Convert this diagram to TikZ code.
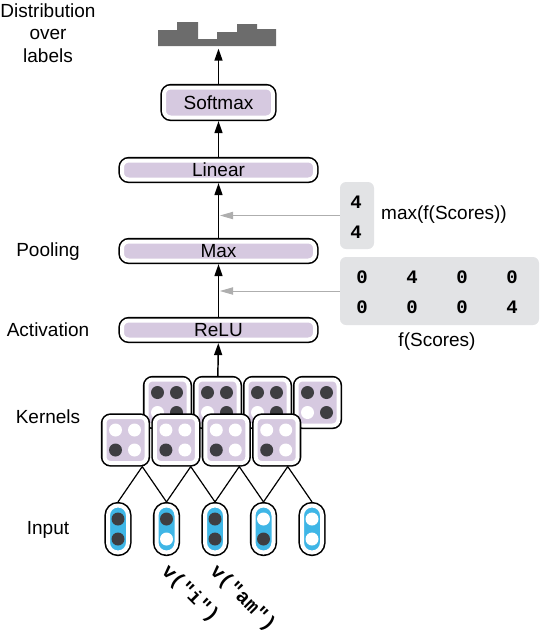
\documentclass[tikz,border=0pt]{standalone}
\usepackage{fontspec}
\setmainfont{Liberation Sans}
\newfontfamily\codefont{Liberation Mono}
\usepackage{tikz}
\usetikzlibrary{arrows.meta,calc}
\definecolor{lav}{HTML}{D6C9E0}
\definecolor{inblue}{HTML}{3FB6E6}
\definecolor{dotd}{HTML}{3E3E42}
\definecolor{scorebg}{HTML}{E2E3E5}
\definecolor{histg}{HTML}{6C6C6C}
\definecolor{pointg}{HTML}{AEAEAE}

\begin{document}
\begin{tikzpicture}[x=0.75pt, y=-0.75pt, font=\fontsize{14.25}{17}\selectfont,
  rim/.style={draw=white, line width=3pt, preaction={draw=black, line width=5.4pt}, outer sep=2.7pt, inner sep=0pt},
  layer/.style={rim, fill=lav, rounded corners=5pt, minimum width=144.75pt, minimum height=14.25pt},
  kern/.style={rim, fill=lav, rounded corners=4.5pt, minimum width=31.5pt, minimum height=34.5pt},
  pill/.style={rim, fill=inblue, rounded corners=7.4pt, minimum width=15pt, minimum height=35.25pt},
  score/.style={fill=scorebg, rounded corners=4.5pt, inner sep=0pt},
  num/.style={font=\fontsize{14.25}{17}\selectfont\codefont\bfseries},
  code/.style={font=\fontsize{15}{18}\selectfont\codefont\bfseries},
  up/.style={-{Triangle[length=9pt,width=6pt]}, line width=1.1pt},
  hint/.style={-{Triangle[length=10pt,width=5.5pt]}, line width=0.75pt, draw=pointg, color=pointg},
  wire/.style={line width=0.9pt}]
%\draw[help lines] (0,0) grid[step=20] (540,640);
\useasboundingbox (0,0) rectangle (540,640);

% left labels
\node (distlab) [align=center] at (48,33) {Distribution\\over\\labels};
\node (poollab) at (48,252) {Pooling};
\node (actlab) at (48,330) {Activation};
\node (kernlab) at (48,417) {Kernels};
\node (inlab) at (48,530) {Input};

% distribution
\fill[histg] (158,46) -- (158,30) -- (177,30) -- (177,22) -- (198,22) -- (198,39) -- (217,39)
  -- (217,32) -- (237,32) -- (237,24) -- (257,24) -- (257,29) -- (276,29) -- (276,46) -- cycle;
\coordinate (dist) at (218.5,46);

% layers
\node (soft) [layer, minimum width=81.75pt, minimum height=22.5pt] at (218.5,102.5) {Softmax};
\node (lin) [layer] at (218.5,170) {Linear};
\node (max) [layer] at (218.5,251) {Max};
\node (relu) [layer] at (218.5,330) {ReLU};

% kernels, back row then front row
\foreach \i in {1,...,4} {
  \node (kb\i) [kern] at (117.5+50*\i,402.5) {};
  \fill[dotd] ([shift={(-10,-10)}]kb\i.center) circle (6.5);
  \fill[dotd] ([shift={(9,-10)}]kb\i.center) circle (6.5);
  \fill[white] ([shift={(-10,10)}]kb\i.center) circle (6.5);
  \fill[dotd] ([shift={(9,10)}]kb\i.center) circle (6.5);
}
\foreach \i in {1,...,4} {
  \node (kf\i) [kern] at (75.1+50.4*\i,440) {};
  \fill[white] ([shift={(-10,-10)}]kf\i.center) circle (6.5);
  \fill[white] ([shift={(9,-10)}]kf\i.center) circle (6.5);
  \fill[dotd] ([shift={(-10,10)}]kf\i.center) circle (6.5);
  \fill[white] ([shift={(9,10)}]kf\i.center) circle (6.5);
}

% input
\foreach \i/\t/\b in {1/dotd/dotd, 2/dotd/white, 3/dotd/dotd, 4/white/dotd, 5/white/white} {
  \node (p\i) [pill] at (69.5+48.5*\i,529) {};
  \fill[\t] ([shift={(0,-10)}]p\i.center) circle (6.5);
  \fill[\b] ([shift={(0,10)}]p\i.center) circle (6.5);
}
\foreach \i [evaluate=\i as \j using int(\i+1)] in {1,...,4} {
  \path (p\i.north) -- (p\j.north) coordinate[midway] (m\i);
  \coordinate (j\i) at (m\i |- kf\i.south);
  \draw[wire] (p\i.north) -- (j\i) -- (p\j.north);
}
\node (vi) [code, anchor=base west, rotate=-45] at ([shift={(-9,13)}]p2.south) {v("i")};
\node (vam) [code, anchor=base west, rotate=-45] at ([shift={(-9,13)}]p3.south) {v("am")};

% scores
\node (mx) [score, minimum width=25.5pt, minimum height=50.25pt] at (357,215.5) {};
\node (mx1) [num] at (356,202) {4};
\node (mx2) [num] at (356,232) {4};
\node (mxlab) at (444,215) {max(f(Scores))};
\node (fs) [score, minimum width=149.25pt, minimum height=51pt] at (439.5,291) {};
\foreach \v [count=\k] in {0,4,0,0} \node (fa\k) [num] at (312+50*\k,277) {\v};
\foreach \v [count=\k] in {0,0,0,4} \node (fb\k) [num] at (312+50*\k,307) {\v};
\node (fslab) at (437,342) {f(Scores)};

\path
(kb2) edge[up] (relu)
(relu) edge[up] (max)
(max) edge[up] (lin)
(lin) edge[up] (soft)
(soft) edge[up, shorten >=2pt] (dist);
\draw[hint, shorten >=1pt] (mx.west) -- (mx.west -| lin.south);
\draw[hint, shorten >=1pt] (fs.west) -- (fs.west -| max.north);
\end{tikzpicture}
\end{document}
